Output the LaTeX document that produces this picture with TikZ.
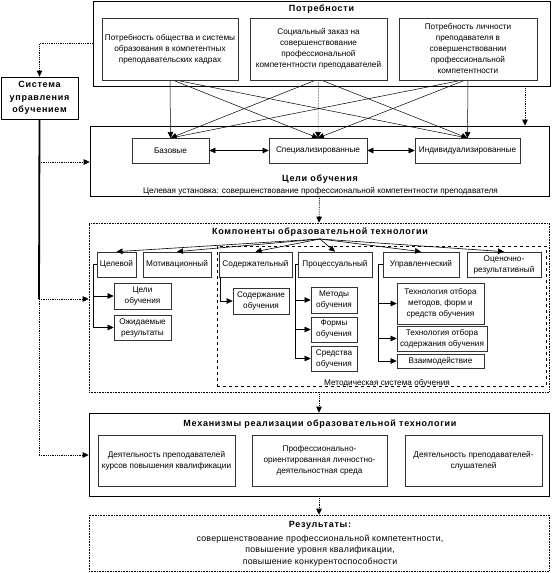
\documentclass[tikz,border=0pt]{standalone}
\usepackage{fontspec}
\setmainfont{Liberation Sans}
\usetikzlibrary{arrows.meta}

\begin{document}
\begin{tikzpicture}[x=1pt, y=-1pt, >={Triangle[length=6pt,width=5.5pt]},
    font=\fontsize{8.2}{11}\selectfont,
    inner box/.style={draw=black!80, line width=0.7pt, fill=white, align=center, inner sep=1pt},
    group box/.style={draw, line width=0.6pt, inner sep=0pt},
    title text/.style={font=\fontsize{9}{11}\selectfont\bfseries\addfontfeature{LetterSpace=8}, inner sep=0pt},
    flow/.style={->, densely dotted, line width=0.8pt},
    cross/.style={->, line width=0.5pt},
    tree/.style={->, line width=0.6pt}]

  \fill[white] (0,0) rectangle (552,573);

  % groups
  \node[group box, minimum width=457pt, minimum height=85pt] (needs) at (321.5, 43.5) {};
  \node[group box, minimum width=459pt, minimum height=70pt] (goals) at (319.5, 161) {};
  \node[group box, densely dotted, minimum width=460pt, minimum height=169pt] (comp) at (319, 307.5) {};
  \node[group box, dashed, minimum width=329pt, minimum height=140pt] (method) at (381.5, 316) {};
  \node[group box, minimum width=460pt, minimum height=83pt] (mech) at (319, 454.5) {};
  \node[group box, densely dotted, minimum width=460pt, minimum height=56pt] (res) at (319, 543) {};

  \node[title text] (needsT) at (321.5, 9) {Потребности};
  \node[title text] (goalsT) at (320, 179) {Цели обучения};
  \node[inner sep=0pt] (goalsSub) at (320.5, 191) {Целевая установка: совершенствование профессиональной компетентности преподавателя};
  \node[title text] (compT) at (320, 232) {Компоненты образовательной технологии};
  \node[inner sep=0pt, anchor=base] (methodT) at (387, 385) {Методическая система обучения};
  \node[title text] (mechT) at (320, 424) {Механизмы реализации образовательной технологии};
  \node[align=center, inner sep=0pt, font=\fontsize{8.8}{11.5}\selectfont\addfontfeature{LetterSpace=3}] (resT) at (320, 544)
    {{\fontsize{9}{11}\selectfont\bfseries\addfontfeature{LetterSpace=8}Результаты:}\\[2pt]
     совершенствование профессиональной компетентности,\\
     повышение уровня квалификации,\\
     повышение конкурентоспособности};

  % needs -> goals
  \coordinate (n1s) at (170, 79);
  \coordinate (n2s) at (318.5, 79);
  \coordinate (n3s) at (468, 79);
  \path[every edge/.style={draw, cross}]
  (n1s) edge (170.5, 138)
  (n1s) edge (318, 138)
  (n1s) edge (467.5, 138)
  (n2s) edge (170.5, 138)
  (n2s) edge[densely dotted] (318, 138)
  (n2s) edge (467.5, 138)
  (n3s) edge (170.5, 138)
  (n3s) edge (318, 138)
  (n3s) edge (467.5, 138);

  \node[inner box, minimum width=136pt, minimum height=62pt] (n1) at (170, 49)
    {Потребность общества и системы\\образования в компетентных\\преподавательских кадрах};
  \node[inner box, minimum width=137pt, minimum height=62pt] (n2) at (318.5, 49)
    {Социальный заказ на\\совершенствование\\профессиональной\\компетентности преподавателей};
  \node[inner box, minimum width=138pt, minimum height=62pt] (n3) at (468, 49)
    {Потребность личности\\преподавателя в\\совершенствовании\\профессиональной\\компетентности};

  \node[inner box, minimum width=77pt, minimum height=25pt] (g1) at (170.5, 150.5) {Базовые};
  \node[inner box, minimum width=98pt, minimum height=25pt] (g2) at (318, 150.5) {Специализированные};
  \node[inner box, minimum width=105pt, minimum height=25pt] (g3) at (467.5, 150.5) {Индивидуализированные};

  \path[every edge/.style={draw, <->, line width=0.6pt}]
  (g1) edge (g2)
  (g2) edge (g3);

  % system of management
  \node[draw, line width=0.8pt, fill=white, minimum width=77pt, minimum height=42pt, align=center,
        title text, font=\fontsize{9}{12.5}\selectfont\bfseries\addfontfeature{LetterSpace=8}] (sys) at (39.5, 98)
    {Система\\управления\\обучением};

  \coordinate (busA) at (39, 162);
  \coordinate (busB) at (39, 299);
  \coordinate (busC) at (39, 455);
  \coordinate (rightX) at (525, 0);
  \draw[line width=1.8pt] (sys.south) -- (busB);
  \draw[densely dotted, line width=0.8pt] (busB) -- (busC);
  \draw[flow] (busA) -- (goals.west |- busA);
  \draw[flow] (busB) -- (comp.west |- busB);
  \draw[flow] (busC) -- (mech.west |- busC);
  \draw[flow] (needs.west) -| (sys.north);
  \draw[flow] (needs.south -| rightX) -- (goals.north -| rightX);
  \draw[flow] (goals.south) -- (comp.north);
  \draw[flow] (comp.south) -- (mech.north);
  \draw[flow] (mech.south) -- (res.north);

  % components
  \node[inner box, minimum width=39pt, minimum height=25pt] (c1) at (116.5, 264.5) {Целевой};
  \node[inner box, minimum width=68pt, minimum height=25pt] (c2) at (177, 264.5) {Мотивационный};
  \node[inner box, minimum width=73pt, minimum height=25pt] (c3) at (255.5, 264.5) {Содержательный};
  \node[inner box, minimum width=74pt, minimum height=25pt] (c4) at (335, 264.5) {Процессуальный};
  \node[inner box, minimum width=76pt, minimum height=25pt] (c5) at (421, 264.5) {Управленческий};
  \node[inner box, minimum width=74pt, minimum height=25pt] (c6) at (504, 264.5) {Оценочно-\\результативный};

  \coordinate (compHub) at (320, 239);
  \path[every edge/.style={draw, tree}]
  (compHub) edge (c1.north)
  (compHub) edge (c2.north)
  (compHub) edge (c3.north)
  (compHub) edge (c4.north)
  (compHub) edge (c5.north)
  (compHub) edge (c6.north);

  \node[inner box, minimum width=57pt, minimum height=26pt] (s11) at (142.5, 296) {Цели\\обучения};
  \node[inner box, minimum width=57pt, minimum height=25pt] (s12) at (142.5, 327.5) {Ожидаемые\\результаты};
  \node[inner box, minimum width=56pt, minimum height=26pt] (s31) at (261, 301) {Содержание\\обучения};
  \node[inner box, minimum width=46pt, minimum height=26pt] (s41) at (334, 300) {Методы\\обучения};
  \node[inner box, minimum width=46pt, minimum height=25pt] (s42) at (334, 329.5) {Формы\\обучения};
  \node[inner box, minimum width=46pt, minimum height=25pt] (s43) at (334, 358.5) {Средства\\обучения};
  \node[inner box, minimum width=87pt, minimum height=41pt] (s51) at (440.5, 303.5) {Технология отбора\\методов, форм и\\средств обучения};
  \node[inner box, minimum width=90pt, minimum height=25pt] (s52) at (442, 338.5) {Технология отбора\\содержания обучения};
  \node[inner box, minimum width=87pt, minimum height=14pt] (s53) at (440.5, 361) {Взаимодействие};

  \draw[tree] (c1.west) -- ++(-3,0) |- (s11.west);
  \draw[tree] (c1.west) -- ++(-3,0) |- (s12.west);
  \draw[tree] (c3.south west) ++(1.5,0) |- (s31.west);
  \draw[tree] (c4.west) -- ++(-2,0) |- (s41.west);
  \draw[tree] (c4.west) -- ++(-2,0) |- (s42.west);
  \draw[tree] (c4.west) -- ++(-2,0) |- (s43.west);
  \draw[tree] (c5.west) -- ++(-4,0) |- (s51.west);
  \draw[tree] (c5.west) -- ++(-4,0) |- (s52.west);
  \draw[tree] (c5.west) -- ++(-4,0) |- (s53.west);

  % mechanisms
  \node[inner box, minimum width=137pt, minimum height=51pt] (m1) at (166.5, 460.5)
    {Деятельность преподавателей\\курсов повышения квалификации};
  \node[inner box, minimum width=135pt, minimum height=51pt] (m2) at (319.5, 460.5)
    {Профессионально-\\ориентированная личностно-\\деятельностная среда};
  \node[inner box, minimum width=137pt, minimum height=51pt] (m3) at (473.5, 460.5)
    {Деятельность преподавателей-\\слушателей};

\end{tikzpicture}
\end{document}
